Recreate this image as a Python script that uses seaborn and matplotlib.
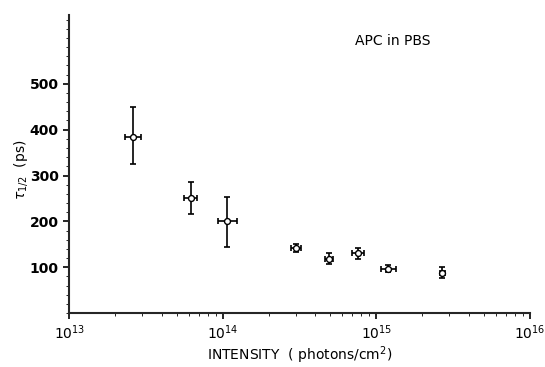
import matplotlib
matplotlib.use("Agg")
import matplotlib.pyplot as plt
import seaborn as sns
import pandas as pd
import numpy as np

intensity = [2.6e13, 6.2e13, 1.07e14, 3.0e14, 4.9e14, 7.6e14, 1.2e15, 2.7e15]
tau_half = [385, 250, 200, 142, 118, 130, 97, 88]
err_up = [65, 35, 53, 8, 12, 12, 8, 12]
err_down = [60, 35, 55, 8, 12, 12, 8, 12]
x_fac = [1.13, 1.10, 1.15, 1.08, 1.06, 1.10, 1.12, 1.04]

df = pd.DataFrame({"intensity": intensity, "tau": tau_half})

sns.set_style("ticks")
plt.rcParams["font.family"] = ["DejaVu Sans"]
plt.rcParams.update({"text.color": "black", "axes.labelcolor": "black",
                     "xtick.color": "black", "ytick.color": "black"})

fig = plt.figure(figsize=(5.45, 3.67), dpi=100)
ax = fig.add_axes([0.127, 0.147, 0.845, 0.812])

xerr_lo = [x - x / f for x, f in zip(intensity, x_fac)]
xerr_hi = [x * f - x for x, f in zip(intensity, x_fac)]
ax.errorbar(intensity, tau_half, yerr=[err_down, err_up], xerr=[xerr_lo, xerr_hi],
            fmt="none", ecolor="black", elinewidth=1.2, capsize=2.5, capthick=1.2)
sns.scatterplot(data=df, x="intensity", y="tau", ax=ax, marker="o", s=18,
                facecolor="white", edgecolor="black", linewidth=1, zorder=3)

ax.set_xscale("log")
ax.set_xlim(1e13, 1e16)
ax.set_ylim(0, 650)
ax.set_yticks([100, 200, 300, 400, 500])
ax.yaxis.set_minor_locator(matplotlib.ticker.MultipleLocator(20))
ax.tick_params(axis="both", which="major", length=4, width=1.2, labelsize=10)
ax.tick_params(axis="both", which="minor", length=2)
for lab in ax.get_yticklabels():
    lab.set_fontweight("bold")

sns.despine(ax=ax)
for s in ["left", "bottom"]:
    ax.spines[s].set_linewidth(1.5)

ax.set_xlabel("INTENSITY  ( photons/cm$^2$)", fontsize=10, labelpad=2)
ax.set_ylabel(r"$\tau_{1/2}$  (ps)", fontsize=10, labelpad=6)
ax.yaxis.set_label_coords(-0.085, 0.48)
ax.text(0.62, 0.9, "APC in PBS", transform=ax.transAxes, fontsize=10)

fig.savefig("out.png", dpi=100)
